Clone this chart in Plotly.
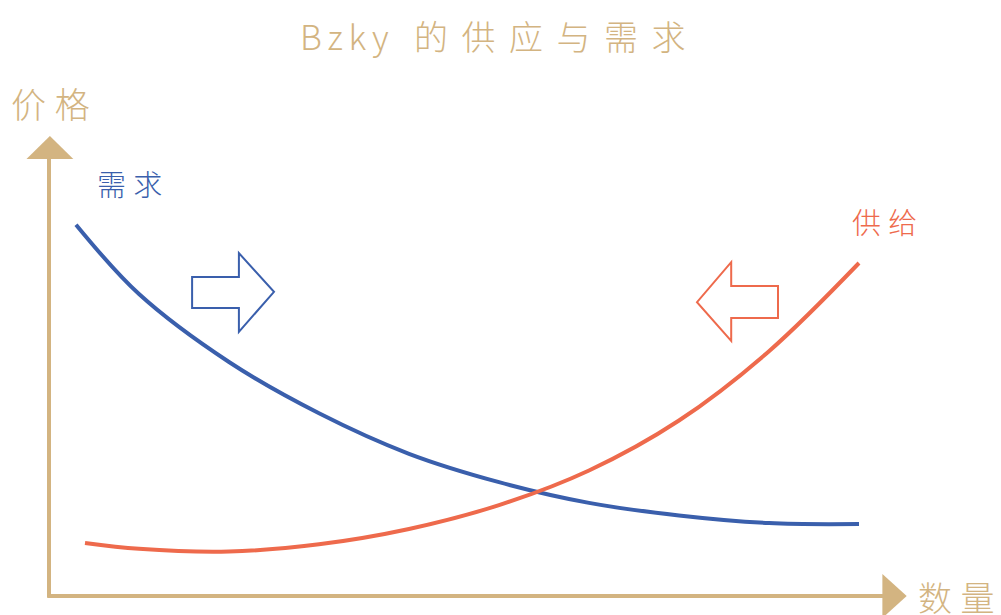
import plotly.graph_objects as go

# ---- data (quantity / price) ----
demand_q = [3, 10, 20, 30, 40, 50, 60, 70, 80, 90]
demand_p = [82.5, 67.1, 52.0, 40.6, 31.6, 25.3, 20.7, 17.9, 16.2, 16.0]

supply_q = [4, 10, 20, 30, 40, 50, 60, 70, 80, 90]
supply_p = [11.8, 10.5, 9.9, 11.5, 14.9, 20.2, 27.9, 39.0, 54.4, 74.0]

title_text = ("B\u2006z\u2006k\u2006y\u2002\u2005的\u2004\u200a供\u2004\u200a应\u2004\u200a与"
              "\u2004\u200a需\u2004\u200a求")
y_label = "价\u2005格"
x_label = "数\u2005量"
demand_label = "需\u2005求"
supply_label = "供\u2005给"

TAN = "rgb(211,180,129)"
BLUE = "rgb(58,95,172)"
ORANGE = "rgb(238,106,76)"
FONT = "Noto Sans CJK SC"

fig = go.Figure()
fig.add_trace(go.Scatter(x=demand_q, y=demand_p, mode="lines",
                         line=dict(color=BLUE, width=4, shape="spline", smoothing=1.0),
                         hoverinfo="skip", showlegend=False))
fig.add_trace(go.Scatter(x=supply_q, y=supply_p, mode="lines",
                         line=dict(color=ORANGE, width=4, shape="spline", smoothing=1.0),
                         hoverinfo="skip", showlegend=False))

shapes = []
# axes with arrow heads
shapes.append(dict(type="line", x0=0, x1=0, y0=-0.2, y1=97.2, line=dict(color=TAN, width=4), layer="below"))
shapes.append(dict(type="path", path="M -2.5,97.1 L 2.7,97.1 L 0.1,102.2 Z", fillcolor=TAN, line=dict(width=0)))
shapes.append(dict(type="line", x0=-0.2, x1=92.8, y0=0, y1=0, line=dict(color=TAN, width=4), layer="below"))
shapes.append(dict(type="path", path="M 92.6,4.9 L 92.6,-4.9 L 95.3,0 Z", fillcolor=TAN, line=dict(width=0)))
# block arrows (outlined)
shapes.append(dict(type="path",
                   path="M 15.9,70.9 L 21.1,70.9 L 21.1,76.2 L 25.0,67.6 L 21.1,58.7 L 21.1,64.0 L 15.9,64.0 Z",
                   fillcolor="white", line=dict(color=BLUE, width=2)))
shapes.append(dict(type="path",
                   path="M 81.0,68.9 L 75.8,68.9 L 75.8,74.2 L 72.0,65.3 L 75.8,56.7 L 75.8,61.8 L 81.0,61.8 Z",
                   fillcolor="white", line=dict(color=ORANGE, width=2)))

annotations = [
    dict(x=49.3, y=124.6, text=title_text, font=dict(family=FONT, size=34, color=TAN, weight=300)),
    dict(x=0.2, y=109.6, text=y_label, font=dict(family=FONT, size=35, color=TAN, weight=300)),
    dict(x=100.8, y=0, text=x_label, font=dict(family=FONT, size=34, color=TAN, weight=300)),
    dict(x=8.9, y=91.8, text=demand_label, font=dict(family=FONT, size=29, color=BLUE, weight=300)),
    dict(x=92.8, y=83.3, text=supply_label, font=dict(family=FONT, size=29, color=ORANGE, weight=300)),
]
for a in annotations:
    a.update(xref="x", yref="y", showarrow=False, xanchor="center", yanchor="middle")

fig.update_layout(
    width=1001, height=615,
    margin=dict(l=0, r=0, t=0, b=0),
    paper_bgcolor="white", plot_bgcolor="white",
    xaxis=dict(range=[-49 / 9, 952 / 9], visible=False, fixedrange=True),
    yaxis=dict(range=[-19 / 4.5, 596 / 4.5], visible=False, fixedrange=True),
    shapes=shapes, annotations=annotations,
    showlegend=False,
)

fig.write_html("out.html")
